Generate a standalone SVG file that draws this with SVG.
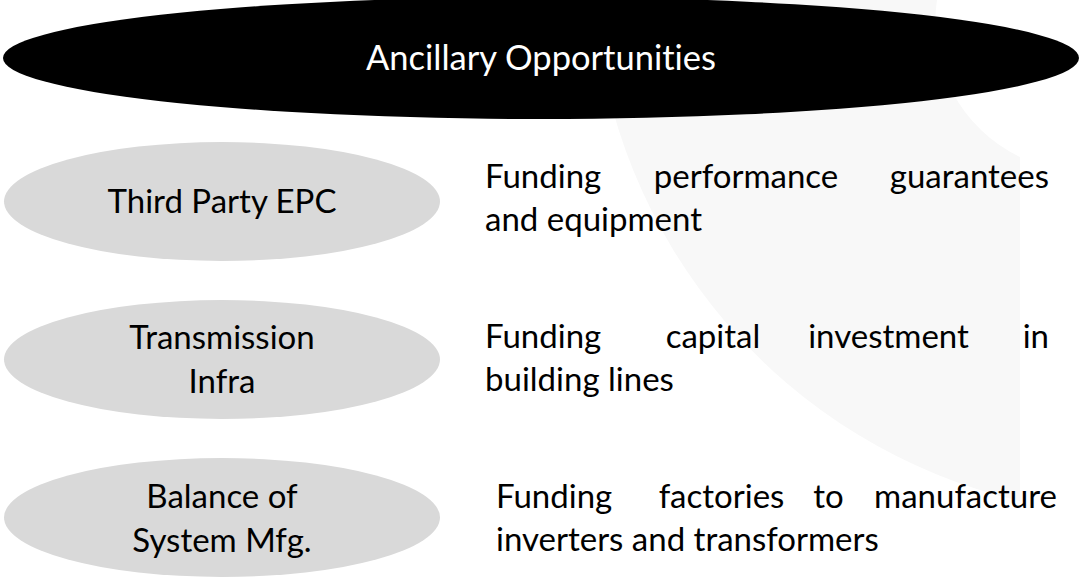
<svg xmlns="http://www.w3.org/2000/svg" width="1084" height="577" viewBox="0 0 1084 577">
  <style>
    text { font-family: Lato, "Open Sans", "Liberation Sans", sans-serif; font-size: 33px; fill: #000000; font-variant-ligatures: none; }
    .title { fill: #ffffff; font-size: 34.5px; text-anchor: middle; }
    .lbl { text-anchor: middle; }
    .mid { text-anchor: middle; }
    .end { text-anchor: end; }
    .pill { fill: #d9d9d9; }
  </style>
  <rect x="0" y="0" width="1084" height="577" fill="#ffffff"/>
  <path id="backdrop" d="M 594 0 L 937 0 A 149 149 0 0 0 1020 157 L 1020 501 A 553 553 0 0 1 594 0 Z" fill="#f8f8f8"/>

  <g id="header">
    <ellipse cx="541" cy="58" rx="538" ry="61" fill="#000000"/>
    <text class="title" x="541" y="70">Ancillary Opportunities</text>
  </g>

  <g id="node-epc">
    <ellipse class="pill" cx="222" cy="201.5" rx="218" ry="59.5"/>
    <text class="lbl" x="222" y="213">Third Party EPC</text>
  </g>
  <g id="desc-epc">
    <text x="485" y="188">Funding</text>
    <text class="mid" x="746" y="188">performance</text>
    <text class="end" x="1049" y="188">guarantees</text>
    <text x="485" y="231">and equipment</text>
  </g>

  <g id="node-transmission">
    <ellipse class="pill" cx="222" cy="359.5" rx="218" ry="59.5"/>
    <text class="lbl" x="222" y="349">Transmission</text>
    <text class="lbl" x="222" y="393">Infra</text>
  </g>
  <g id="desc-transmission">
    <text x="485" y="348">Funding</text>
    <text class="mid" x="713" y="348">capital</text>
    <text class="mid" x="888.5" y="348">investment</text>
    <text class="end" x="1049" y="348">in</text>
    <text x="485" y="391">building lines</text>
  </g>

  <g id="node-bos">
    <ellipse class="pill" cx="222" cy="517.5" rx="218" ry="59.5"/>
    <text class="lbl" x="222" y="508">Balance of</text>
    <text class="lbl" x="222" y="552">System Mfg.</text>
  </g>
  <g id="desc-bos">
    <text x="496" y="508">Funding</text>
    <text class="mid" x="721.5" y="508">factories</text>
    <text class="mid" x="828.5" y="508">to</text>
    <text class="end" x="1057" y="508">manufacture</text>
    <text x="496" y="551">inverters and transformers</text>
  </g>

  <g id="connectors"/>
</svg>
